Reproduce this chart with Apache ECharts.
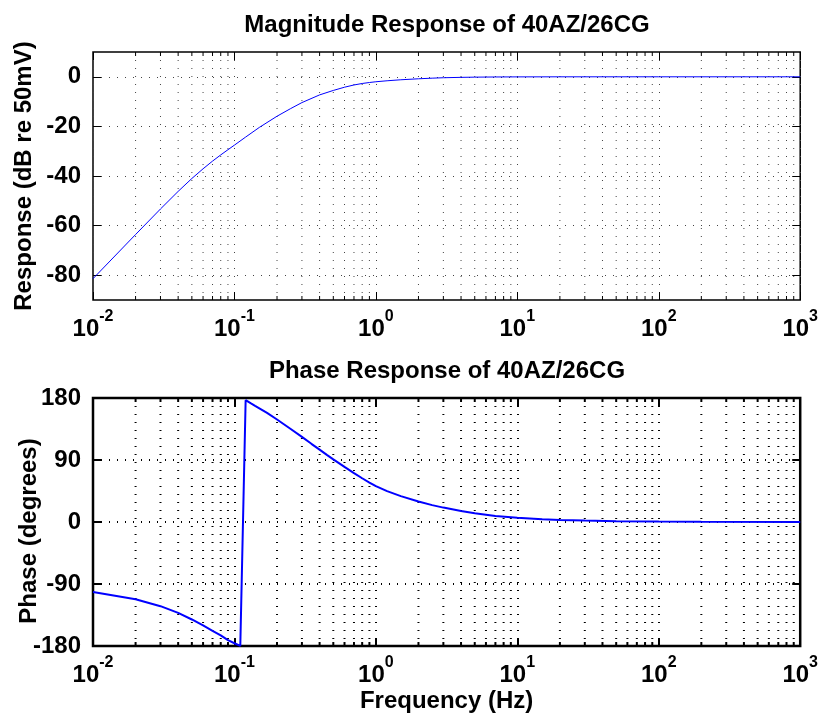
<!DOCTYPE html>
<html>
<head>
<meta charset="utf-8">
<script src="https://cdn.jsdelivr.net/npm/echarts@6/dist/echarts.min.js"></script>
<style>
  html, body { margin: 0; padding: 0; background: #ffffff; }
  #chart { width: 821px; height: 715px; }
</style>
</head>
<body>
<div id="chart"></div>
<script>
// Magnitude response of the 40AZ/26CG channel (frequency in Hz, level in dB re 50 mV)
const magFreq = [0.01, 0.02, 0.03, 0.04, 0.05, 0.06, 0.07, 0.08, 0.09, 0.10, 0.12, 0.15,
                 0.2, 0.25, 0.3, 0.4, 0.5, 0.6, 0.7, 0.8, 0.9, 1.0, 1.2, 1.5,
                 2, 2.5, 3, 4, 5, 7, 10, 20, 100, 1000];
const magDb   = [-81.4, -63.6, -53.3, -46.2, -41.0, -37.1, -34.0, -31.5, -29.4, -27.55, -24.3, -20.4,
                 -15.9, -12.8, -10.4, -7.3, -5.5, -4.2, -3.3, -2.7, -2.3, -2.0, -1.6, -1.2,
                 -0.8, -0.55, -0.38, -0.22, -0.14, -0.07, -0.035, -0.01, 0, 0];

// Phase response (degrees, wrapped to the range -180..180)
const phaseFreq = [0.01, 0.02, 0.03, 0.04, 0.05, 0.06, 0.07, 0.08, 0.09, 0.10, 0.11,
                   0.12, 0.13, 0.14, 0.15, 0.17, 0.2, 0.25, 0.3, 0.35, 0.4, 0.45, 0.5,
                   0.6, 0.7, 0.8, 0.9, 1.0, 1.2, 1.5, 2, 2.5, 3, 4, 5, 7, 10,
                   15, 20, 30, 50, 100, 200, 1000];
const phaseDeg  = [-101.5, -112.1, -122.2, -131.9, -141.5, -150.2, -158.0, -164.7, -171.5, -176.0, -179.8,
                   176.8, 172.5, 168.6, 165.0, 158.3, 148.8, 135.0, 123.5, 113.5, 105.0, 97.5, 91.0,
                   80.0, 71.0, 63.5, 57.3, 52.0, 44.8, 37.5, 29.8, 24.5, 20.9, 15.9, 12.6, 8.8, 6.0,
                   4.0, 3.0, 2.0, 1.2, 0.6, 0.3, 0.06];

// Axis ticks
const decadeTicks = [0.01, 0.1, 1, 10, 100, 1000];
const minorSteps = [2, 3, 4, 5, 6, 7, 8, 9];
const magTicks = [-80, -60, -40, -20, 0];
const phaseTicks = [-180, -90, 0, 90, 180];

const FONT = "'Liberation Sans', Arial, Helvetica, sans-serif";

// minor log grid positions between decades (2..9 x 10^k)
const minorFreqs = [];
decadeTicks.slice(0, -1).forEach(d => minorSteps.forEach(m => minorFreqs.push(+(d * m).toPrecision(3))));

const zip = (xs, ys) => xs.map((x, i) => [x, ys[i]]);

// "10" with the exponent set as a superscript
const logLabel = {
  margin: 9,
  formatter: v => '{b|10}{s|' + Math.round(Math.log10(v)) + '}',
  rich: {
    b: { fontFamily: FONT, fontWeight: 'bold', fontSize: 24, color: '#000', lineHeight: 32, verticalAlign: 'bottom' },
    s: { fontFamily: FONT, fontWeight: 'bold', fontSize: 16, color: '#000', lineHeight: 16, verticalAlign: 'top' }
  }
};

function xAxes(gridIndex, heavy, withName) {
  const grid = { type: [1, 7], color: heavy ? '#000' : '#444', width: heavy ? 2 : 1 };
  const tick = { show: true, inside: true, length: 8, customValues: decadeTicks, lineStyle: { color: '#000', width: heavy ? 2 : 1 } };
  return [
    {
      type: 'log', logBase: 10, gridIndex, min: 0.01, max: 1000, position: 'bottom',
      axisLine: { show: false, onZero: false },
      axisTick: tick,
      axisLabel: Object.assign({ customValues: decadeTicks }, logLabel),
      splitLine: { show: true, lineStyle: grid },
      name: withName ? 'Frequency (Hz)' : '',
      nameLocation: 'middle', nameGap: 43, nameMoveOverlap: false,
      nameTextStyle: { fontFamily: FONT, fontWeight: 'bold', fontSize: 24, color: '#000' }
    },
    {
      type: 'log', logBase: 10, gridIndex, min: 0.01, max: 1000, position: 'top',
      axisLine: { show: false, onZero: false },
      axisTick: tick,
      axisLabel: { show: false, customValues: decadeTicks },
      splitLine: { show: false }
    }
  ];
}

function yAxes(gridIndex, heavy, min, max, ticks, name, nameGap, namePad) {
  const grid = { type: [1, 7], color: heavy ? '#000' : '#444', width: heavy ? 2 : 1 };
  const tick = { show: true, inside: true, length: 8, customValues: ticks, lineStyle: { color: '#000', width: heavy ? 2 : 1 } };
  return [
    {
      type: 'value', gridIndex, min, max, position: 'left',
      axisLine: { show: false, onZero: false },
      axisTick: tick,
      axisLabel: { customValues: ticks, margin: 12, fontFamily: FONT, fontWeight: 'bold', fontSize: 24, color: '#000' },
      splitLine: { show: true, lineStyle: grid },
      name, nameLocation: 'middle', nameGap, nameRotate: 90, nameMoveOverlap: false,
      nameTextStyle: { fontFamily: FONT, fontWeight: 'bold', fontSize: 24, color: '#000', padding: namePad }
    },
    {
      type: 'value', gridIndex, min, max, position: 'right',
      axisLine: { show: false, onZero: false },
      axisTick: tick,
      axisLabel: { show: false, customValues: ticks },
      splitLine: { show: false }
    }
  ];
}

// dotted minor grid lines plus short minor ticks along the top and bottom edges
function minorGrid(axisIdx, heavy) {
  return {
    type: 'custom', xAxisIndex: axisIdx, yAxisIndex: axisIdx, silent: true, z: 1, animation: false,
    data: minorFreqs.map(f => [f, 0]),
    renderItem(params, api) {
      const cs = params.coordSys;
      const x = api.coord([api.value(0), 0])[0];
      const w = heavy ? 2 : 1;
      const col = heavy ? '#000' : '#444';
      return {
        type: 'group',
        children: [
          { type: 'line', shape: { x1: x, y1: cs.y, x2: x, y2: cs.y + cs.height },
            style: { stroke: col, lineWidth: w, lineDash: [1, 7] } },
          { type: 'line', shape: { x1: x, y1: cs.y + cs.height, x2: x, y2: cs.y + cs.height - 4 },
            style: { stroke: '#000', lineWidth: w } },
          { type: 'line', shape: { x1: x, y1: cs.y, x2: x, y2: cs.y + 4 },
            style: { stroke: '#000', lineWidth: w } }
        ]
      };
    }
  };
}

const titleStyle = { fontFamily: FONT, fontWeight: 'bold', fontSize: 24, color: '#000' };

const option = {
  backgroundColor: '#ffffff',
  animation: false,
  title: [
    { text: 'Magnitude Response of 40AZ/26CG', left: 447, top: 13, textAlign: 'center', padding: 0, textStyle: titleStyle },
    { text: 'Phase Response of 40AZ/26CG', left: 447, top: 359, textAlign: 'center', padding: 0, textStyle: titleStyle }
  ],
  grid: [
    { left: 93, right: 20, top: 52, height: 248, show: true, borderColor: '#000', borderWidth: 1.5, backgroundColor: 'transparent' },
    { left: 93, right: 20, top: 398, height: 248, show: true, borderColor: '#000', borderWidth: 2.5, backgroundColor: 'transparent' }
  ],
  xAxis: [...xAxes(0, false, false), ...xAxes(1, true, true)],
  yAxis: [
    ...yAxes(0, false, -90, 10, magTicks, 'Response (dB re 50mV)', 57, [0, 0, 0, 0]),
    ...yAxes(1, true, -180, 180, phaseTicks, 'Phase (degrees)', 52, [0, 18, 0, 0])
  ],
  series: [
    minorGrid(0, false),
    minorGrid(2, true),
    {
      type: 'line', xAxisIndex: 0, yAxisIndex: 0, data: zip(magFreq, magDb), showSymbol: false,
      lineStyle: { color: '#0000ff', width: 1 }, z: 3, silent: true
    },
    {
      type: 'line', xAxisIndex: 2, yAxisIndex: 2, data: zip(phaseFreq, phaseDeg), showSymbol: false,
      lineStyle: { color: '#0000ff', width: 2 }, z: 3, silent: true
    }
  ]
};

const chart = echarts.init(document.getElementById('chart'), null, { renderer: 'canvas' });
chart.setOption(option);
</script>
</body>
</html>
